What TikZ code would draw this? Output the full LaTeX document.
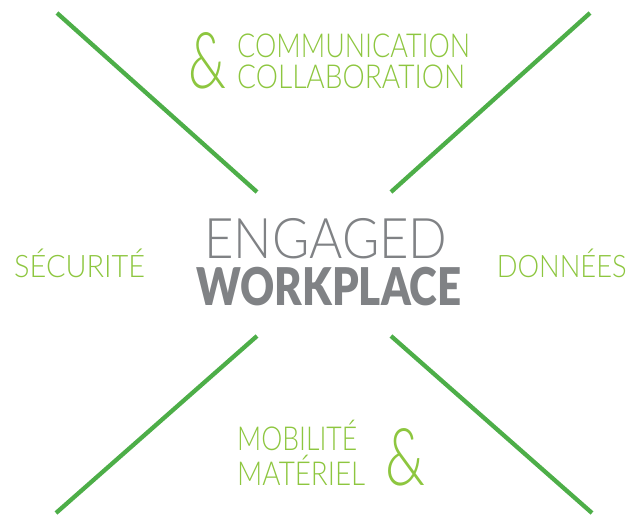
\documentclass[tikz,border=0pt]{standalone}
\usepackage{fontspec}
\usepackage{graphicx}
\setmainfont{Lato}[UprightFont=* Light, BoldFont=* Black]
\definecolor{linegreen}{RGB}{77,174,72}
\definecolor{textgreen}{RGB}{141,198,63}
\definecolor{titlegrey}{RGB}{128,130,133}
% squeeze a word to a given width, keeping its height
\newcommand{\squeeze}[2]{\resizebox{#1}{\height}{#2}}
\tikzset{
  arm/.style={linegreen, line width=4.3pt},
  topic/.style={textgreen, inner sep=0pt, font=\fontsize{33}{33}\selectfont},
  title/.style={titlegrey, inner sep=0pt}
}
\begin{document}
\begin{tikzpicture}[x=1pt, y=-1pt]
  \useasboundingbox (0,0) rectangle (644,515);

  % the four arms of the cross
  \coordinate (tl) at (57,13);
  \coordinate (tli) at (257,192);
  \coordinate (tr) at (590,13);
  \coordinate (tri) at (391,192);
  \coordinate (bl) at (56,513);
  \coordinate (bli) at (257,336);
  \coordinate (br) at (592,513);
  \coordinate (bri) at (391,336);
  \draw[arm] (tl) -- (tli);
  \draw[arm] (tr) -- (tri);
  \draw[arm] (bl) -- (bli);
  \draw[arm] (br) -- (bri);

  % centre
  \node[title, anchor=base, font=\fontsize{56}{56}\selectfont] (engaged) at (326,258) {\squeeze{243pt}{ENGAGED}};
  \node[title, anchor=base, font=\fontsize{52}{52}\selectfont\bfseries] (workplace) at (329,305) {\squeeze{265pt}{WORKPLACE}};

  % top
  \node[topic, anchor=base west] (amptop) at (188,88) {\resizebox{38pt}{56pt}{\&}};
  \node[topic, anchor=base west] (comm) at (237,57) {\squeeze{233pt}{COMMUNICATION}};
  \node[topic, anchor=base west] (collab) at (237,88) {\squeeze{228pt}{COLLABORATION}};

  % sides
  \node[topic, anchor=base west, font=\fontsize{31}{31}\selectfont] (secu) at (14,277) {\squeeze{131pt}{SÉCURITÉ}};
  \node[topic, anchor=base east, font=\fontsize{31}{31}\selectfont] (data) at (627,277) {\squeeze{130pt}{DONNÉES}};

  % bottom
  \node[topic, anchor=base west] (mob) at (237,450) {\squeeze{120pt}{MOBILITÉ}};
  \node[topic, anchor=base west] (mat) at (237,485) {\squeeze{128pt}{MATÉRIEL}};
  \node[topic, anchor=base west] (ampbot) at (385,485) {\resizebox{40pt}{57pt}{\&}};
\end{tikzpicture}
\end{document}
